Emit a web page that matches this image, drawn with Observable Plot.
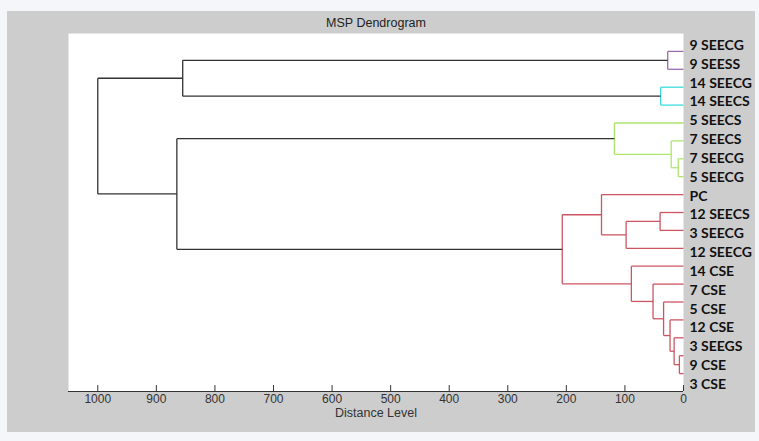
<!DOCTYPE html>
<html>
<head>
<meta charset="utf-8">
<script src="https://cdn.jsdelivr.net/npm/d3@7"></script>
<script src="https://cdn.jsdelivr.net/npm/@observablehq/plot@0.6"></script>
<style>
  html, body { margin: 0; padding: 0; background: #f4f6f9; }
  #chart { position: absolute; left: 7px; top: 11px; }
  #chart svg { background: #cdcdcd; display: block; }
</style>
</head>
<body>
<div id="chart"></div>
<script>
// Leaf labels, top to bottom
const leaves = ["9 SEECG","9 SEESS","14 SEECG","14 SEECS","5 SEECS","7 SEECS","7 SEECG","5 SEECG",
  "PC","12 SEECS","3 SEECG","12 SEECG","14 CSE","7 CSE","5 CSE","12 CSE","3 SEEGS","9 CSE","3 CSE"];

// Merges (linkage): node id, left child, right child, merge distance, colour group
const nodeIds    = ["A","B","C","D","E","F","G","H","I","J","K","L","M","N","O","P","Q","R"];
const leftChild  = ["9 SEECG","14 SEECG","A","7 SEECG","7 SEECS","5 SEECS","12 SEECS","G","PC","9 CSE","3 SEEGS","12 CSE","5 CSE","7 CSE","14 CSE","I","F","C"];
const rightChild = ["9 SEESS","14 SEECS","B","5 SEECG","D","E","3 SEECG","12 SEECG","H","3 CSE","J","K","L","M","N","O","P","Q"];
const mergeDist  = [27, 39, 855, 9, 21, 118, 40, 98, 140, 7, 16, 23, 34, 52, 89, 207, 865, 1000];
const mergeGroup = ["g1","g2","g0","g3","g3","g3","g4","g4","g4","g4","g4","g4","g4","g4","g4","g4","g0","g0"];

const groupNames  = ["g1","g2","g3","g4","g0"];
const groupColors = ["#9b6bb0","#3fdcdc","#aee56e","#cc5561","#333333"];

const xTicks = [0,100,200,300,400,500,600,700,800,900,1000];

// build segments of the dendrogram
const pos = new Map(leaves.map((l, i) => [l, {y: i + 1, h: 0}]));
const segs = [];
nodeIds.forEach((id, k) => {
  const L = pos.get(leftChild[k]), R = pos.get(rightChild[k]);
  const h = mergeDist[k], g = mergeGroup[k];
  segs.push({x1: h, x2: h, y1: L.y, y2: R.y, g});
  segs.push({x1: L.h, x2: h, y1: L.y, y2: L.y, g});
  segs.push({x1: R.h, x2: h, y1: R.y, y2: R.y, g});
  pos.set(id, {y: (L.y + R.y) / 2, h});
});

const chart = Plot.plot({
  width: 748,
  height: 421,
  marginLeft: 61,
  marginRight: 72,
  marginTop: 22,
  marginBottom: 41,
  style: {fontFamily: "'Liberation Sans', Arial, sans-serif", background: "#cdcdcd"},
  x: {domain: [1050, 0], ticks: xTicks, label: null},
  y: {domain: [0, leaves.length + 1], reverse: true, axis: null},
  color: {type: "ordinal", domain: groupNames, range: groupColors},
  marks: [
    Plot.frame({fill: "white", stroke: "none"}),
    Plot.link(segs, {x1: "x1", x2: "x2", y1: "y1", y2: "y2", stroke: "g", strokeWidth: 1.3}),
    Plot.ruleY([leaves.length + 1], {stroke: "#333", strokeWidth: 1.2}),
    Plot.ruleX(xTicks, {x: d => d, y1: leaves.length + 1, y2: leaves.length + 1 - 0.33, stroke: "#333"}),
    Plot.axisX(xTicks, {tickSize: 0, tickPadding: 3, fontSize: 12, fill: "#333", label: null, tickFormat: d => String(d)}),
    Plot.text(leaves, {
      y: (d, i) => 0.67 + 1.052 * i,
      frameAnchor: "right", textAnchor: "start", dx: 6,
      text: d => d, fontSize: 14, fontWeight: "bold", fill: "#111",
      fontFamily: "Lato, 'Open Sans', sans-serif"
    }),
    Plot.text(["MSP Dendrogram"], {frameAnchor: "top", lineAnchor: "middle", dy: -11, text: d => d, fontSize: 12.5, fill: "#222"}),
    Plot.text(["Distance Level"], {frameAnchor: "bottom", lineAnchor: "middle", dy: 21, text: d => d, fontSize: 12.5, fill: "#333"})
  ]
});
document.getElementById("chart").appendChild(chart);
</script>
</body>
</html>
